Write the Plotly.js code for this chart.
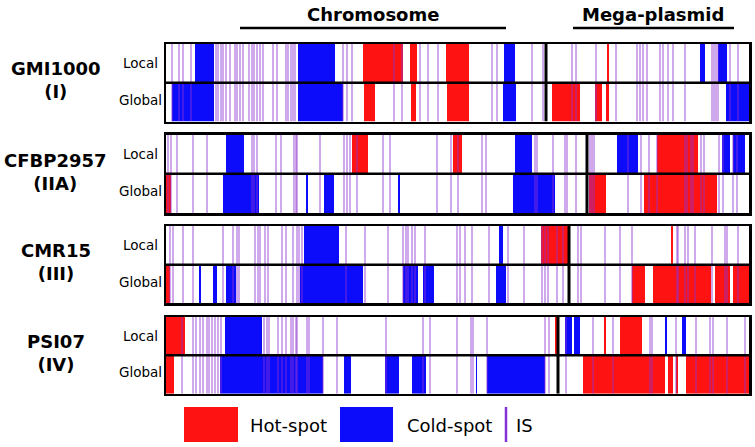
<!DOCTYPE html>
<html>
<head>
<meta charset="utf-8">
<script src="https://cdn.plot.ly/plotly-3.0.1.min.js"></script>
<style>html,body{margin:0;padding:0;background:#fff}#chart{width:755px;height:447px}</style>
</head>
<body>
<div id="chart"></div>
<script>
// ---- DATA (positions along the genome panel, arbitrary units) ----
const genomes = ['GMI1000', 'CFBP2957', 'CMR15', 'PSI07'];
const phylotypes = ['(I)', '(IIA)', '(III)', '(IV)'];
const trackLabels = ['Local', 'Global'];
const genomeStart = 166;
const genomeEnd = 749;
const plasmidStart = [546, 587, 569, 558];

const gmiLocalHot = [[363,403],[410,417],[446,469],[607,609]];
const gmiLocalCold = [[195,214],[298,335],[504,515],[700,705],[718,727]];
const gmiGlobalHot = [[364,375],[411,416],[447,469],[552,580],[595,602],[606,609]];
const gmiGlobalCold = [[172,214],[298,343],[503,516],[726,749]];
const gmiIS = [172,179,183,191,216,218,221,223,226,230,235,237,240,243,249,252,254,257,260,263,273,277,286,288,291,293,295,343,347,352,394,402,420,428,438,492,497,532,543,572,576,596,616,637,640,643,647,660,663,668,673,685,712,714,716,718,730,738];

const cfbLocalHot = [[352,368],[453,462],[657,698]];
const cfbLocalCold = [[226,244],[515,532],[617,638],[722,730],[733,745]];
const cfbGlobalHot = [[166,171],[589,606],[644,717]];
const cfbGlobalCold = [[223,259],[306,308],[324,334],[398,400],[513,555]];
const cfbIS = [168,171,177,193,207,252,254,257,276,281,294,296,297,320,344,347,350,357,383,390,437,451,458,482,486,535,537,553,565,567,576,590,592,594,628,641,649,657,685,687,691,693,701,704,719,723,733,737];

const cmrLocalHot = [[541,568],[671,673]];
const cmrLocalCold = [[304,339],[499,503]];
const cmrGlobalHot = [[166,170],[632,645],[653,711],[715,730],[733,749]];
const cmrGlobalCold = [[199,201],[213,217],[226,236],[300,363],[403,418],[423,434],[496,506]];
const cmrIS = [170,173,183,193,223,233,237,239,255,258,260,265,268,282,286,293,297,299,302,346,365,388,403,406,408,412,415,425,457,460,465,472,489,508,524,542,545,548,557,563,578,581,605,620,632,677,678,685,688,695,712,725,727,738];

const psiLocalHot = [[166,185],[555,557],[604,606],[620,642]];
const psiLocalCold = [[225,262],[565,572],[574,580],[665,667],[682,686]];
const psiGlobalHot = [[166,174],[583,665],[668,673],[676,678],[686,749]];
const psiGlobalCold = [[220,323],[344,351],[385,399],[412,426],[476,477],[487,545]];
const psiIS = [182,193,196,200,203,207,209,212,215,218,221,264,267,269,278,282,286,291,293,296,297,307,309,323,337,386,423,430,457,471,473,487,545,549,566,593,613,650,652,676,696,710,713,727,745];

const panels = [
  {hotL: gmiLocalHot, coldL: gmiLocalCold, hotG: gmiGlobalHot, coldG: gmiGlobalCold, is: gmiIS},
  {hotL: cfbLocalHot, coldL: cfbLocalCold, hotG: cfbGlobalHot, coldG: cfbGlobalCold, is: cfbIS},
  {hotL: cmrLocalHot, coldL: cmrLocalCold, hotG: cmrGlobalHot, coldG: cmrGlobalCold, is: cmrIS},
  {hotL: psiLocalHot, coldL: psiLocalCold, hotG: psiGlobalHot, coldG: psiGlobalCold, is: psiIS}
];

// ---- STYLE ----
const W = 755, H = 447, ML = 166, MR = W - 749;
const HOT = 'rgb(255,18,18)';
const COLD = 'rgb(12,12,250)';
const ISCOL = 'rgba(140,50,210,0.7)';
const FONT = 'DejaVu Sans, sans-serif';
const px = x => (x - ML) / (W - ML - MR);
const py = y => 1 - y / H;
const panelPix = [[44,121.5],[134.7,213],[226,303.3],[317,393.7]];

const traces = [];
const layout = {
  width: W, height: H,
  margin: {l: ML, r: MR, t: 0, b: 0, pad: 0},
  paper_bgcolor: 'white', plot_bgcolor: 'white',
  showlegend: false, barmode: 'overlay',
  font: {family: FONT, color: 'black'},
  shapes: [], annotations: []
};

function barTrace(intervals, yc, color, k) {
  return {
    type: 'bar', orientation: 'h',
    x: intervals.map(d => d[1] - d[0]),
    base: intervals.map(d => d[0]),
    y: intervals.map(() => yc),
    width: 1,
    marker: {color: color, line: {width: 0}},
    xaxis: 'x' + k, yaxis: 'y' + k, hoverinfo: 'skip'
  };
}

panels.forEach((p, i) => {
  const k = i === 0 ? '' : String(i + 1);
  traces.push(barTrace(p.hotL, 1.5, HOT, k));
  traces.push(barTrace(p.coldL, 1.5, COLD, k));
  traces.push(barTrace(p.hotG, 0.5, HOT, k));
  traces.push(barTrace(p.coldG, 0.5, COLD, k));
  const ix = [], iy = [];
  p.is.forEach(v => { ix.push(v, v, null); iy.push(0, 2, null); });
  traces.push({type: 'scatter', mode: 'lines', x: ix, y: iy,
    line: {color: ISCOL, width: 1.2}, xaxis: 'x' + k, yaxis: 'y' + k, hoverinfo: 'skip'});
  traces.push({type: 'scatter', mode: 'lines', x: [plasmidStart[i], plasmidStart[i]], y: [0, 2],
    line: {color: 'black', width: 3}, xaxis: 'x' + k, yaxis: 'y' + k, hoverinfo: 'skip'});

  const dom = [py(panelPix[i][1]), py(panelPix[i][0])];
  const axBase = {showline: true, mirror: true, linewidth: 2.5, linecolor: 'black',
    showticklabels: false, ticks: '', showgrid: false, zeroline: false, fixedrange: true};
  layout['xaxis' + k] = Object.assign({}, axBase, {range: [genomeStart, genomeEnd], anchor: 'y' + k, domain: [0, 1]});
  layout['yaxis' + k] = Object.assign({}, axBase, {range: [0, 2], anchor: 'x' + k, domain: dom});

  layout.shapes.push({type: 'line', xref: 'x' + k + ' domain', yref: 'y' + k,
    x0: 0, x1: 1, y0: 1, y1: 1, line: {color: 'black', width: 2.5}});

  layout.annotations.push({text: '<b>' + genomes[i] + '</b><br><b>' + phylotypes[i] + '</b>',
    xref: 'paper', yref: 'y' + k, x: px(56), y: 1.06, xanchor: 'center', yanchor: 'middle',
    showarrow: false, font: {size: 18, family: FONT}});
  layout.annotations.push({text: trackLabels[0], xref: 'paper', yref: 'y' + k, x: px(140), y: 1.5,
    xanchor: 'center', yanchor: 'middle', showarrow: false, font: {size: 13.5, family: FONT}});
  layout.annotations.push({text: trackLabels[1], xref: 'paper', yref: 'y' + k, x: px(140), y: 0.56,
    xanchor: 'center', yanchor: 'middle', showarrow: false, font: {size: 13.5, family: FONT}});
});

// header
layout.annotations.push({text: '<b>Chromosome</b>', xref: 'paper', yref: 'paper', x: px(373), y: py(14),
  xanchor: 'center', yanchor: 'middle', showarrow: false, font: {size: 18, family: FONT}});
layout.annotations.push({text: '<b>Mega-plasmid</b>', xref: 'paper', yref: 'paper', x: px(653), y: py(14),
  xanchor: 'center', yanchor: 'middle', showarrow: false, font: {size: 18, family: FONT}});
layout.shapes.push({type: 'line', xref: 'paper', yref: 'paper', x0: px(240), x1: px(506), y0: py(28), y1: py(28),
  line: {color: 'black', width: 2.5}});
layout.shapes.push({type: 'line', xref: 'paper', yref: 'paper', x0: px(573), x1: px(734), y0: py(28), y1: py(28),
  line: {color: 'black', width: 2.5}});

// legend
layout.shapes.push({type: 'rect', xref: 'paper', yref: 'paper', x0: px(184), x1: px(238), y0: py(442), y1: py(407),
  fillcolor: HOT, line: {width: 0}});
layout.shapes.push({type: 'rect', xref: 'paper', yref: 'paper', x0: px(340), x1: px(393), y0: py(442), y1: py(407),
  fillcolor: COLD, line: {width: 0}});
layout.shapes.push({type: 'line', xref: 'paper', yref: 'paper', x0: px(506), x1: px(506), y0: py(442), y1: py(407),
  line: {color: 'rgb(130,50,215)', width: 2.5}});
[['Hot-spot', 248], ['Cold-spot', 405], ['IS', 514]].forEach(([t, x]) => {
  layout.annotations.push({text: t, xref: 'paper', yref: 'paper', x: px(x), y: py(425),
    xanchor: 'left', yanchor: 'middle', showarrow: false, font: {size: 18, family: FONT}});
});

Plotly.newPlot('chart', traces, layout, {displayModeBar: false, staticPlot: true});
</script>
</body>
</html>
